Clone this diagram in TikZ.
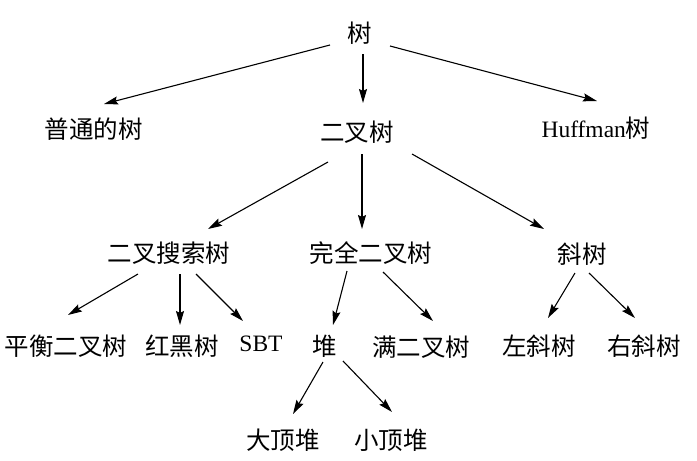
\documentclass[tikz,border=0pt]{standalone}
\usepackage{fontspec}
\setmainfont{Liberation Serif}
\newfontfamily\cjk{Noto Sans CJK SC}
\usetikzlibrary{arrows.meta}
\tikzset{
  lbl/.style={inner sep=0pt, anchor=center, font=\fontsize{24.5}{24.5}\selectfont\cjk},
  lat/.style={inner sep=0pt, anchor=center, font=\fontsize{23.5}{23.5}\selectfont},
  arr/.style={line width=1.1pt, -{Stealth[length=14pt,width=8pt,inset=2pt]}}
}
\begin{document}
\begin{tikzpicture}[x=1pt,y=-1pt]
\useasboundingbox (0,0) rectangle (697,461);
\node[lbl] (root) at (360,33) {树};
\node[lbl] (pt) at (94,129) {普通的树};
\node[lbl] (bt) at (357,132) {二叉树};
\node[lat] (huff) at (596,128) {Huffman{\fontsize{24.5}{24.5}\selectfont\cjk 树}};
\node[lbl] (bst) at (169,253) {二叉搜索树};
\node[lbl] (cbt) at (371,253) {完全二叉树};
\node[lbl] (xie) at (582,254) {斜树};
\node[lbl] (avl) at (66,346) {平衡二叉树};
\node[lbl] (rb) at (182,346) {红黑树};
\node[lat] (sbt) at (261,344) {SBT};
\node[lbl] (heap) at (325,346) {堆};
\node[lbl] (full) at (421,347) {满二叉树};
\node[lbl] (left) at (539,346) {左斜树};
\node[lbl] (right) at (644,346) {右斜树};
\node[lbl] (big) at (283,440) {大顶堆};
\node[lbl] (small) at (391,440) {小顶堆};

\draw[arr] ([shift={(-30,12)}]root.center) -- ([shift={(10,-25)}]pt.center);
\draw[arr] ([shift={(3,21)}]root.center) -- ([shift={(6,-29)}]bt.center);
\draw[arr] ([shift={(30,13)}]root.center) -- ([shift={(1,-27)}]huff.center);
\draw[arr] ([shift={(-29,30)}]bt.center) -- ([shift={(39,-24)}]bst.center);
\draw[arr] ([shift={(5,22)}]bt.center) -- ([shift={(-9,-24)}]cbt.center);
\draw[arr] ([shift={(55,22)}]bt.center) -- ([shift={(-38,-25)}]xie.center);
\draw[arr] ([shift={(-31,21)}]bst.center) -- ([shift={(2,-31)}]avl.center);
\draw[arr] ([shift={(11,21)}]bst.center) -- ([shift={(-2,-21)}]rb.center);
\draw[arr] ([shift={(27,21)}]bst.center) -- ([shift={(-18,-23)}]sbt.center);
\draw[arr] ([shift={(-24,18)}]cbt.center) -- ([shift={(8,-21)}]heap.center);
\draw[arr] ([shift={(12,19)}]cbt.center) -- ([shift={(12,-26)}]full.center);
\draw[arr] ([shift={(-7,19)}]xie.center) -- ([shift={(9,-28)}]left.center);
\draw[arr] ([shift={(7,19)}]xie.center) -- ([shift={(-9,-28)}]right.center);
\draw[arr] ([shift={(-2,16)}]heap.center) -- ([shift={(10,-26)}]big.center);
\draw[arr] ([shift={(18,15)}]heap.center) -- ([shift={(1,-28)}]small.center);
\end{tikzpicture}
\end{document}
